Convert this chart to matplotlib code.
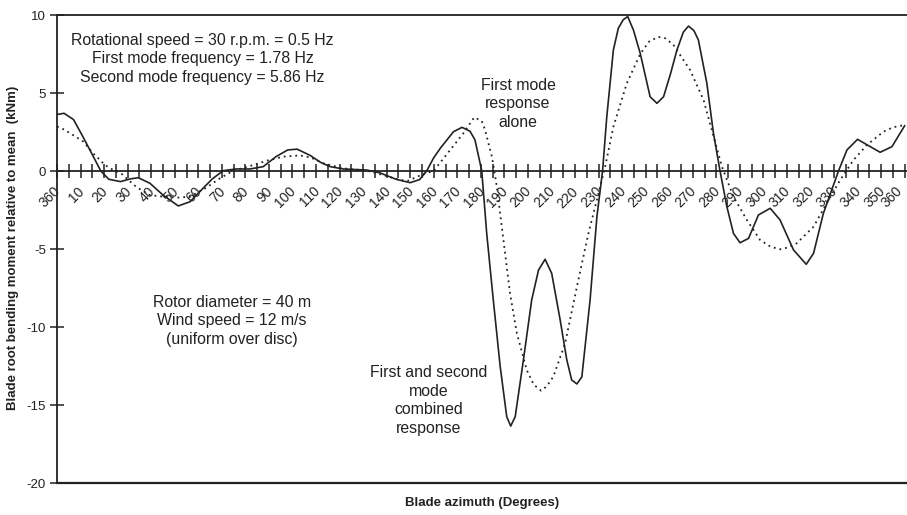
import matplotlib
matplotlib.use("Agg")
import matplotlib.pyplot as plt
import matplotlib.transforms as mtransforms
import numpy as np

plt.rcParams['font.family'] = ['Liberation Sans', 'DejaVu Sans']
plt.rcParams['axes.unicode_minus'] = False

# first and second mode combined response (solid)
comb_deg = [0, 3, 7, 11, 15, 18.6, 22, 27, 31, 34.5, 39.5, 45, 51.5, 56.5, 62, 66,
            70.6, 76, 82, 87.6, 93, 98, 102, 107.5, 112, 116, 121.6, 131.6, 137, 144,
            150, 154, 157, 160, 163, 168.4, 172, 175.4, 177.5, 179.4, 180.4, 182.5,
            185.3, 188.2, 191, 192.7, 194.6, 198.1, 201.6, 204.5, 207.3, 210.1, 213.7,
            216.5, 218.6, 220.8, 222.9, 226.4, 229.3, 231.7, 233.5, 236.3, 238.4, 240.5,
            242.4, 244.8, 247.7, 251.9, 254.8, 257.6, 260.5, 263.3, 266, 268.2, 270.5,
            272.4, 276, 278.8, 281.6, 284.5, 287.3, 290.1, 293.7, 297.9, 302.9, 307.1,
            312.8, 318.2, 321.3, 325.5, 331.9, 335.5, 340, 345.4, 349.6, 354.6, 360]
comb_val = [3.62, 3.7, 3.3, 2.2, 1.05, 0, -0.53, -0.68, -0.51, -0.43, -0.79, -1.54,
            -2.24, -1.97, -1.11, -0.5, 0.02, 0.13, 0.13, 0.28, 0.92, 1.35, 1.4, 1.0,
            0.55, 0.28, 0.13, 0.06, -0.11, -0.53, -0.75, -0.55, 0, 0.85, 1.5, 2.52, 2.8,
            2.55, 2.0, 0.7, 0, -4.0, -8.27, -12.5, -15.75, -16.35, -15.75, -12.1, -8.27,
            -6.35, -5.66, -6.56, -9.55, -12.1, -13.4, -13.65, -13.2, -8.27, -2.93, 0,
            3.48, 7.76, 9.15, 9.7, 9.9, 9.04, 7.54, 4.76, 4.34, 4.76, 6.2, 7.76, 8.9,
            9.29, 9.0, 8.4, 5.62, 2.42, 0, -2.29, -4.0, -4.6, -4.32, -2.82, -2.39,
            -3.14, -5.06, -5.98, -5.28, -2.71, 0, 1.35, 2.03, 1.56, 1.2, 1.56, 2.9]

# first mode response alone (dotted)
first_deg = [0, 2, 6.9, 11.2, 15.4, 20.4, 23.9, 27.5, 33.9, 39.5, 45.2, 50.8, 56.5,
             63.6, 69.2, 74.9, 82, 89.1, 96.1, 103.2, 108, 113.1, 121.6, 131.6, 138.6,
             145.7, 149.2, 155.6, 159.9, 167, 172.6, 177.2, 180.4, 181.8, 184.7, 186.8,
             189.6, 192.4, 195.3, 199.5, 202.5, 205.6, 208, 210.8, 215.8, 220.8, 225.7,
             230, 232.8, 236.3, 242, 247.7, 251.5, 255.4, 258.5, 261.8, 268.9, 274.6,
             278.1, 282.4, 287.3, 293, 298.6, 303, 307.1, 310.5, 314.2, 321.3, 327.7,
             332.6, 338.3, 344, 351, 355, 360]
first_val = [2.85, 2.74, 2.3, 1.88, 1.13, 0.38, 0.06, -0.19, -1.05, -1.54, -1.65,
             -1.71, -1.65, -1.05, -0.47, 0.02, 0.32, 0.66, 0.92, 1.0, 0.85, 0.49, 0.17,
             0.02, -0.26, -0.58, -0.62, -0.19, 0, 1.35, 2.42, 3.44, 3.2, 2.63, 0.92,
             -1.0, -4.42, -7.84, -10.4, -12.76, -13.7, -14.08, -13.8, -13.18, -11.05,
             -7.42, -4.0, -1.43, 0.28, 2.84, 5.62, 7.5, 8.3, 8.6, 8.5, 8.08, 6.47, 4.55,
             2.63, 0.28, -1.65, -3.14, -4.42, -4.85, -5.02, -4.9, -4.63, -3.57, -1.86,
             -0.58, 0.71, 1.67, 2.52, 2.8, 2.95]

major_ticks = list(range(0, 361, 10))
tick_labels = ['360'] + [str(d) for d in range(10, 361, 10)]
minor_ticks = list(range(5, 360, 10))

ink = '#222222'

fig = plt.figure(figsize=(9.07, 5.15), dpi=100)
ax = fig.add_axes([57/907, 32/515, 850/907, 468/515])

ax.plot(comb_deg, comb_val, color=ink, lw=1.2, solid_joinstyle='round')
ax.plot(first_deg, first_val, color=ink, lw=1.3, linestyle=(0, (1, 2.2)))

ax.set_xlim(0, 361)
ax.set_ylim(-20, 10)

ax.spines['right'].set_visible(False)
ax.spines['bottom'].set_position(('data', 0))
for s in ['left', 'bottom', 'top']:
    ax.spines[s].set_color(ink)
    ax.spines[s].set_linewidth(1.3)
ax.axhline(-20, color=ink, lw=1.6, clip_on=False)

ax.set_xticks(major_ticks)
ax.set_xticklabels(tick_labels, rotation=45, ha='right', va='top',
                   rotation_mode='anchor')
ax.set_xticks(minor_ticks, minor=True)
ax.tick_params(axis='x', which='both', direction='inout', length=10, width=1.1,
               color=ink, labelsize=10, labelcolor=ink, pad=3)
# nudge the slanted labels a little down-left, as in the original
shift = mtransforms.ScaledTranslation(-0.035, -0.02, fig.dpi_scale_trans)
for lbl in ax.get_xticklabels():
    lbl.set_transform(lbl.get_transform() + shift)
# last label sits at the right edge of the figure, keep it inside
last = ax.get_xticklabels()[-1]
last.set_transform(last.get_transform() +
                   mtransforms.ScaledTranslation(-0.06, 0, fig.dpi_scale_trans))

ax.set_yticks([10, 5, 0, -5, -10, -15, -20])
ax.tick_params(axis='y', direction='inout', length=10, width=1.1, color=ink,
               labelsize=9.5, labelcolor=ink, pad=3)

fig.text(482/907, 1 - 503/515, 'Blade azimuth (Degrees)', ha='center', va='center',
         fontsize=9.5, fontweight='bold', color=ink)
fig.text(13/907, 1 - 248/515, 'Blade root bending moment relative to mean  (kNm)',
         ha='center', va='center', rotation=90, fontsize=9.5, fontweight='bold',
         color=ink)

ax.text(61.8, 7.2, 'Rotational speed = 30 r.p.m. = 0.5 Hz\nFirst mode frequency = 1.78 Hz\n'
        'Second mode frequency = 5.86 Hz', ha='center', va='center', fontsize=11.4,
        color=ink, linespacing=1.3)
ax.text(195.8, 4.3, 'First mode\nresponse\nalone', ha='center', va='center',
        fontsize=11.4, color=ink, linespacing=1.3)
ax.text(74.2, -9.6, 'Rotor diameter = 40 m\nWind speed = 12 m/s\n(uniform over disc)',
        ha='center', va='center', fontsize=11.4, color=ink, linespacing=1.3)
ax.text(158, -14.7, 'First and second\nmode\ncombined\nresponse', ha='center',
        va='center', fontsize=11.4, color=ink, linespacing=1.3)

fig.savefig('out.png', dpi=100)
